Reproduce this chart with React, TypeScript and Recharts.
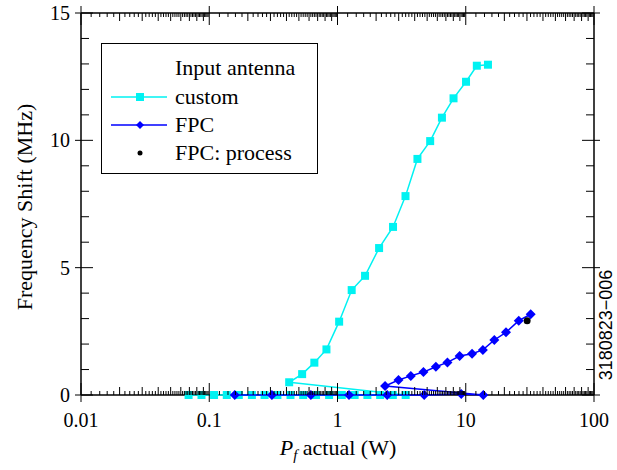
import React from 'react';
import { ComposedChart, Scatter, XAxis, YAxis } from 'recharts';

// Input antenna: custom (cyan squares) - low sweep first, then the rising branch
const customPower = [
  0.069, 0.087, 0.109, 0.137, 0.17, 0.215, 0.27, 0.34, 0.43, 0.54, 0.68, 0.86,
  1.08, 1.36, 1.71, 2.15, 2.7, 3.4,
  0.42, 0.53, 0.66, 0.82, 1.03, 1.29, 1.64, 2.11, 2.71, 3.39, 4.2, 5.28, 6.52,
  8.03, 10.05, 12.2, 14.9,
];
const customShift = [
  0, 0, 0, 0, 0, 0, 0, 0, 0, 0, 0, 0, 0, 0, 0, 0, 0, 0,
  0.5, 0.82, 1.27, 1.79, 2.88, 4.12, 4.68, 5.77, 6.6, 7.81, 9.27, 9.97, 10.89,
  11.65, 12.3, 12.93, 12.97,
];

// Input antenna: FPC (blue diamonds)
const fpcPower = [
  0.158, 0.308, 0.62, 1.23, 2.44, 4.74, 9.22, 13.7,
  2.35, 2.99, 3.73, 4.68, 5.85, 7.2, 8.96, 11.2, 13.6, 16.7, 20.6, 25.9, 32.1,
];
const fpcShift = [
  0, 0, 0, 0, 0, 0, 0.04, 0,
  0.35, 0.59, 0.75, 0.9, 1.11, 1.28, 1.53, 1.62, 1.77, 2.16, 2.46, 2.92, 3.17,
];

// FPC: process (black dot)
const processPower = [30.1];
const processShift = [2.92];

const xTickLabels = ['0.01', '0.1', '1', '10', '100'];
const yTickLabels = ['0', '5', '10', '15'];
const legendLabels = ['Input antenna', 'custom', 'FPC', 'FPC: process'];

const CYAN = '#00f2f2';
const BLUE = '#0000ff';
const SERIF = '"Liberation Serif", "Times New Roman", serif';

const toPoints = (xs: number[], ys: number[]) => xs.map((x, i) => ({ x, y: ys[i] }));

const customData = toPoints(customPower, customShift);
const fpcData = toPoints(fpcPower, fpcShift);
const processData = toPoints(processPower, processShift);

// log axis ticks: decades, integer mantissas, and 0.2 steps in between
const majorX = xTickLabels.map(Number);
const xTicks: number[] = [];
majorX.slice(0, -1).forEach((d) => {
  for (let m = 10; m < 100; m += 2) xTicks.push(Number((d * m / 10).toPrecision(6)));
});
xTicks.push(100);

const yTicks: number[] = [];
for (let v = 0; v <= 15; v++) yTicks.push(v);

const xKind = (v: number) => {
  const e = Math.floor(Math.log10(v) + 1e-9);
  const m = v / Math.pow(10, e);
  if (Math.abs(m - 1) < 1e-6) return 'major';
  if (Math.abs(m - Math.round(m)) < 1e-6) return 'mid';
  return 'minor';
};

const XTick = (props: any) => {
  const { x, y, payload, side } = props;
  const v = payload.value;
  const kind = xKind(v);
  const dir = side === 'bottom' ? -1 : 1;
  const inLen = kind === 'major' ? 12 : kind === 'mid' ? 8 : 4;
  const outLen = kind === 'major' ? 7 : 0;
  const idx = majorX.findIndex((d) => Math.abs(d - v) < 1e-9);
  return (
    <g>
      <line x1={x} x2={x} y1={y + dir * inLen} y2={y - dir * outLen} stroke="#000" strokeWidth={1} />
      {side === 'bottom' && idx >= 0 && (
        <text x={x} y={y + 32} textAnchor="middle" fontSize={20} fontFamily={SERIF} fill="#000">
          {xTickLabels[idx]}
        </text>
      )}
    </g>
  );
};

const YTick = (props: any) => {
  const { x, y, payload, side } = props;
  const v = payload.value;
  const major = v % 5 === 0;
  const dir = side === 'left' ? 1 : -1;
  const inLen = major ? 12 : 8;
  const outLen = major ? 6 : 0;
  return (
    <g>
      <line x1={x + dir * inLen} x2={x - dir * outLen} y1={y} y2={y} stroke="#000" strokeWidth={1} />
      {side === 'left' && major && (
        <text x={x - 11} y={y + 7} textAnchor="end" fontSize={20} fontFamily={SERIF} fill="#000">
          {yTickLabels[v / 5]}
        </text>
      )}
    </g>
  );
};

const Square = (p: any) => <rect x={p.cx - 4} y={p.cy - 4} width={8} height={8} fill={CYAN} />;
const Diamond = (p: any) => (
  <polygon
    points={`${p.cx},${p.cy - 5} ${p.cx + 5},${p.cy} ${p.cx},${p.cy + 5} ${p.cx - 5},${p.cy}`}
    fill={BLUE}
  />
);
const Dot = (p: any) => <circle cx={p.cx} cy={p.cy} r={3.5} fill="#000" />;
const Nothing = () => <g />;

const LegendBox = () => (
  <div
    style={{
      position: 'absolute',
      left: 101,
      top: 43,
      width: 215,
      height: 129,
      border: '1.5px solid #000',
      background: '#fff',
    }}
  >
    <svg width={215} height={129} style={{ display: 'block' }}>
      <g fontFamily={SERIF} fontSize={22} fill="#000">
        <text x={73} y={31}>{legendLabels[0]}</text>
        <text x={73} y={60}>{legendLabels[1]}</text>
        <text x={73} y={88}>{legendLabels[2]}</text>
        <text x={73} y={116}>{legendLabels[3]}</text>
      </g>
      <line x1={9} x2={65} y1={53} y2={53} stroke={CYAN} strokeWidth={1.5} />
      <rect x={34} y={49} width={8} height={8} fill={CYAN} />
      <line x1={9} x2={65} y1={81} y2={81} stroke={BLUE} strokeWidth={1.5} />
      <polygon points="38,77 42,81 38,85 34,81" fill={BLUE} />
      <circle cx={38} cy={109} r={2.5} fill="#000" />
    </svg>
  </div>
);

const App: React.FC = () => {
  return (
    <div style={{ position: 'absolute', left: 0, top: 0, width: 617, height: 470, background: '#fff' }}>
      <ComposedChart width={617} height={470} margin={{ top: 12, right: 22, bottom: 0, left: 0 }}>
        <XAxis
          xAxisId="bottom"
          dataKey="x"
          type="number"
          scale="log"
          domain={[0.01, 100]}
          ticks={xTicks}
          interval={0}
          height={75}
          orientation="bottom"
          axisLine={{ stroke: '#000', strokeWidth: 1.5 }}
          tickLine={false}
          tickSize={0}
          tickMargin={0}
          tick={<XTick side="bottom" />}
        />
        <XAxis
          xAxisId="top"
          dataKey="x"
          type="number"
          scale="log"
          domain={[0.01, 100]}
          ticks={xTicks}
          interval={0}
          height={1}
          orientation="top"
          axisLine={{ stroke: '#000', strokeWidth: 1.5 }}
          tickLine={false}
          tickSize={0}
          tickMargin={0}
          tick={<XTick side="top" />}
        />
        <YAxis
          yAxisId="left"
          dataKey="y"
          type="number"
          domain={[0, 15]}
          ticks={yTicks}
          interval={0}
          width={81}
          orientation="left"
          axisLine={{ stroke: '#000', strokeWidth: 1.5 }}
          tickLine={false}
          tickSize={0}
          tickMargin={0}
          tick={<YTick side="left" />}
        />
        <YAxis
          yAxisId="right"
          dataKey="y"
          type="number"
          domain={[0, 15]}
          ticks={yTicks}
          interval={0}
          width={1}
          orientation="right"
          axisLine={{ stroke: '#000', strokeWidth: 1.5 }}
          tickLine={false}
          tickSize={0}
          tickMargin={0}
          tick={<YTick side="right" />}
        />
        <Scatter
          name="frame"
          data={processData}
          xAxisId="top"
          yAxisId="right"
          shape={Nothing}
          legendType="none"
          isAnimationActive={false}
        />
        <Scatter
          name="custom"
          data={customData}
          xAxisId="bottom"
          yAxisId="left"
          line={{ stroke: CYAN, strokeWidth: 1.5 }}
          lineType="joint"
          shape={Square}
          isAnimationActive={false}
        />
        <Scatter
          name="FPC"
          data={fpcData}
          xAxisId="bottom"
          yAxisId="left"
          line={{ stroke: BLUE, strokeWidth: 1.5 }}
          lineType="joint"
          shape={Diamond}
          isAnimationActive={false}
        />
        <Scatter
          name="FPC: process"
          data={processData}
          xAxisId="bottom"
          yAxisId="left"
          shape={Dot}
          isAnimationActive={false}
        />
      </ComposedChart>
      <svg
        width={617}
        height={470}
        style={{ position: 'absolute', left: 0, top: 0, pointerEvents: 'none' }}
      >
        <text
          transform="translate(32,207) rotate(-90)"
          textAnchor="middle"
          fontSize={22}
          fontFamily={SERIF}
          fill="#000"
        >
          Frequency Shift (MHz)
        </text>
        <text x={338} y={455} textAnchor="middle" fontSize={22} fontFamily={SERIF} fill="#000">
          <tspan fontStyle="italic">P</tspan>
          <tspan fontStyle="italic" fontSize={15} dy={5}>f</tspan>
          <tspan dy={-5}> actual (W)</tspan>
        </text>
        <text
          transform="translate(612,325) rotate(-90)"
          textAnchor="middle"
          fontSize={18}
          fontFamily='"Liberation Sans", Arial, sans-serif'
          fill="#000"
        >
          3180823−006
        </text>
      </svg>
      <LegendBox />
    </div>
  );
};

export default App;
